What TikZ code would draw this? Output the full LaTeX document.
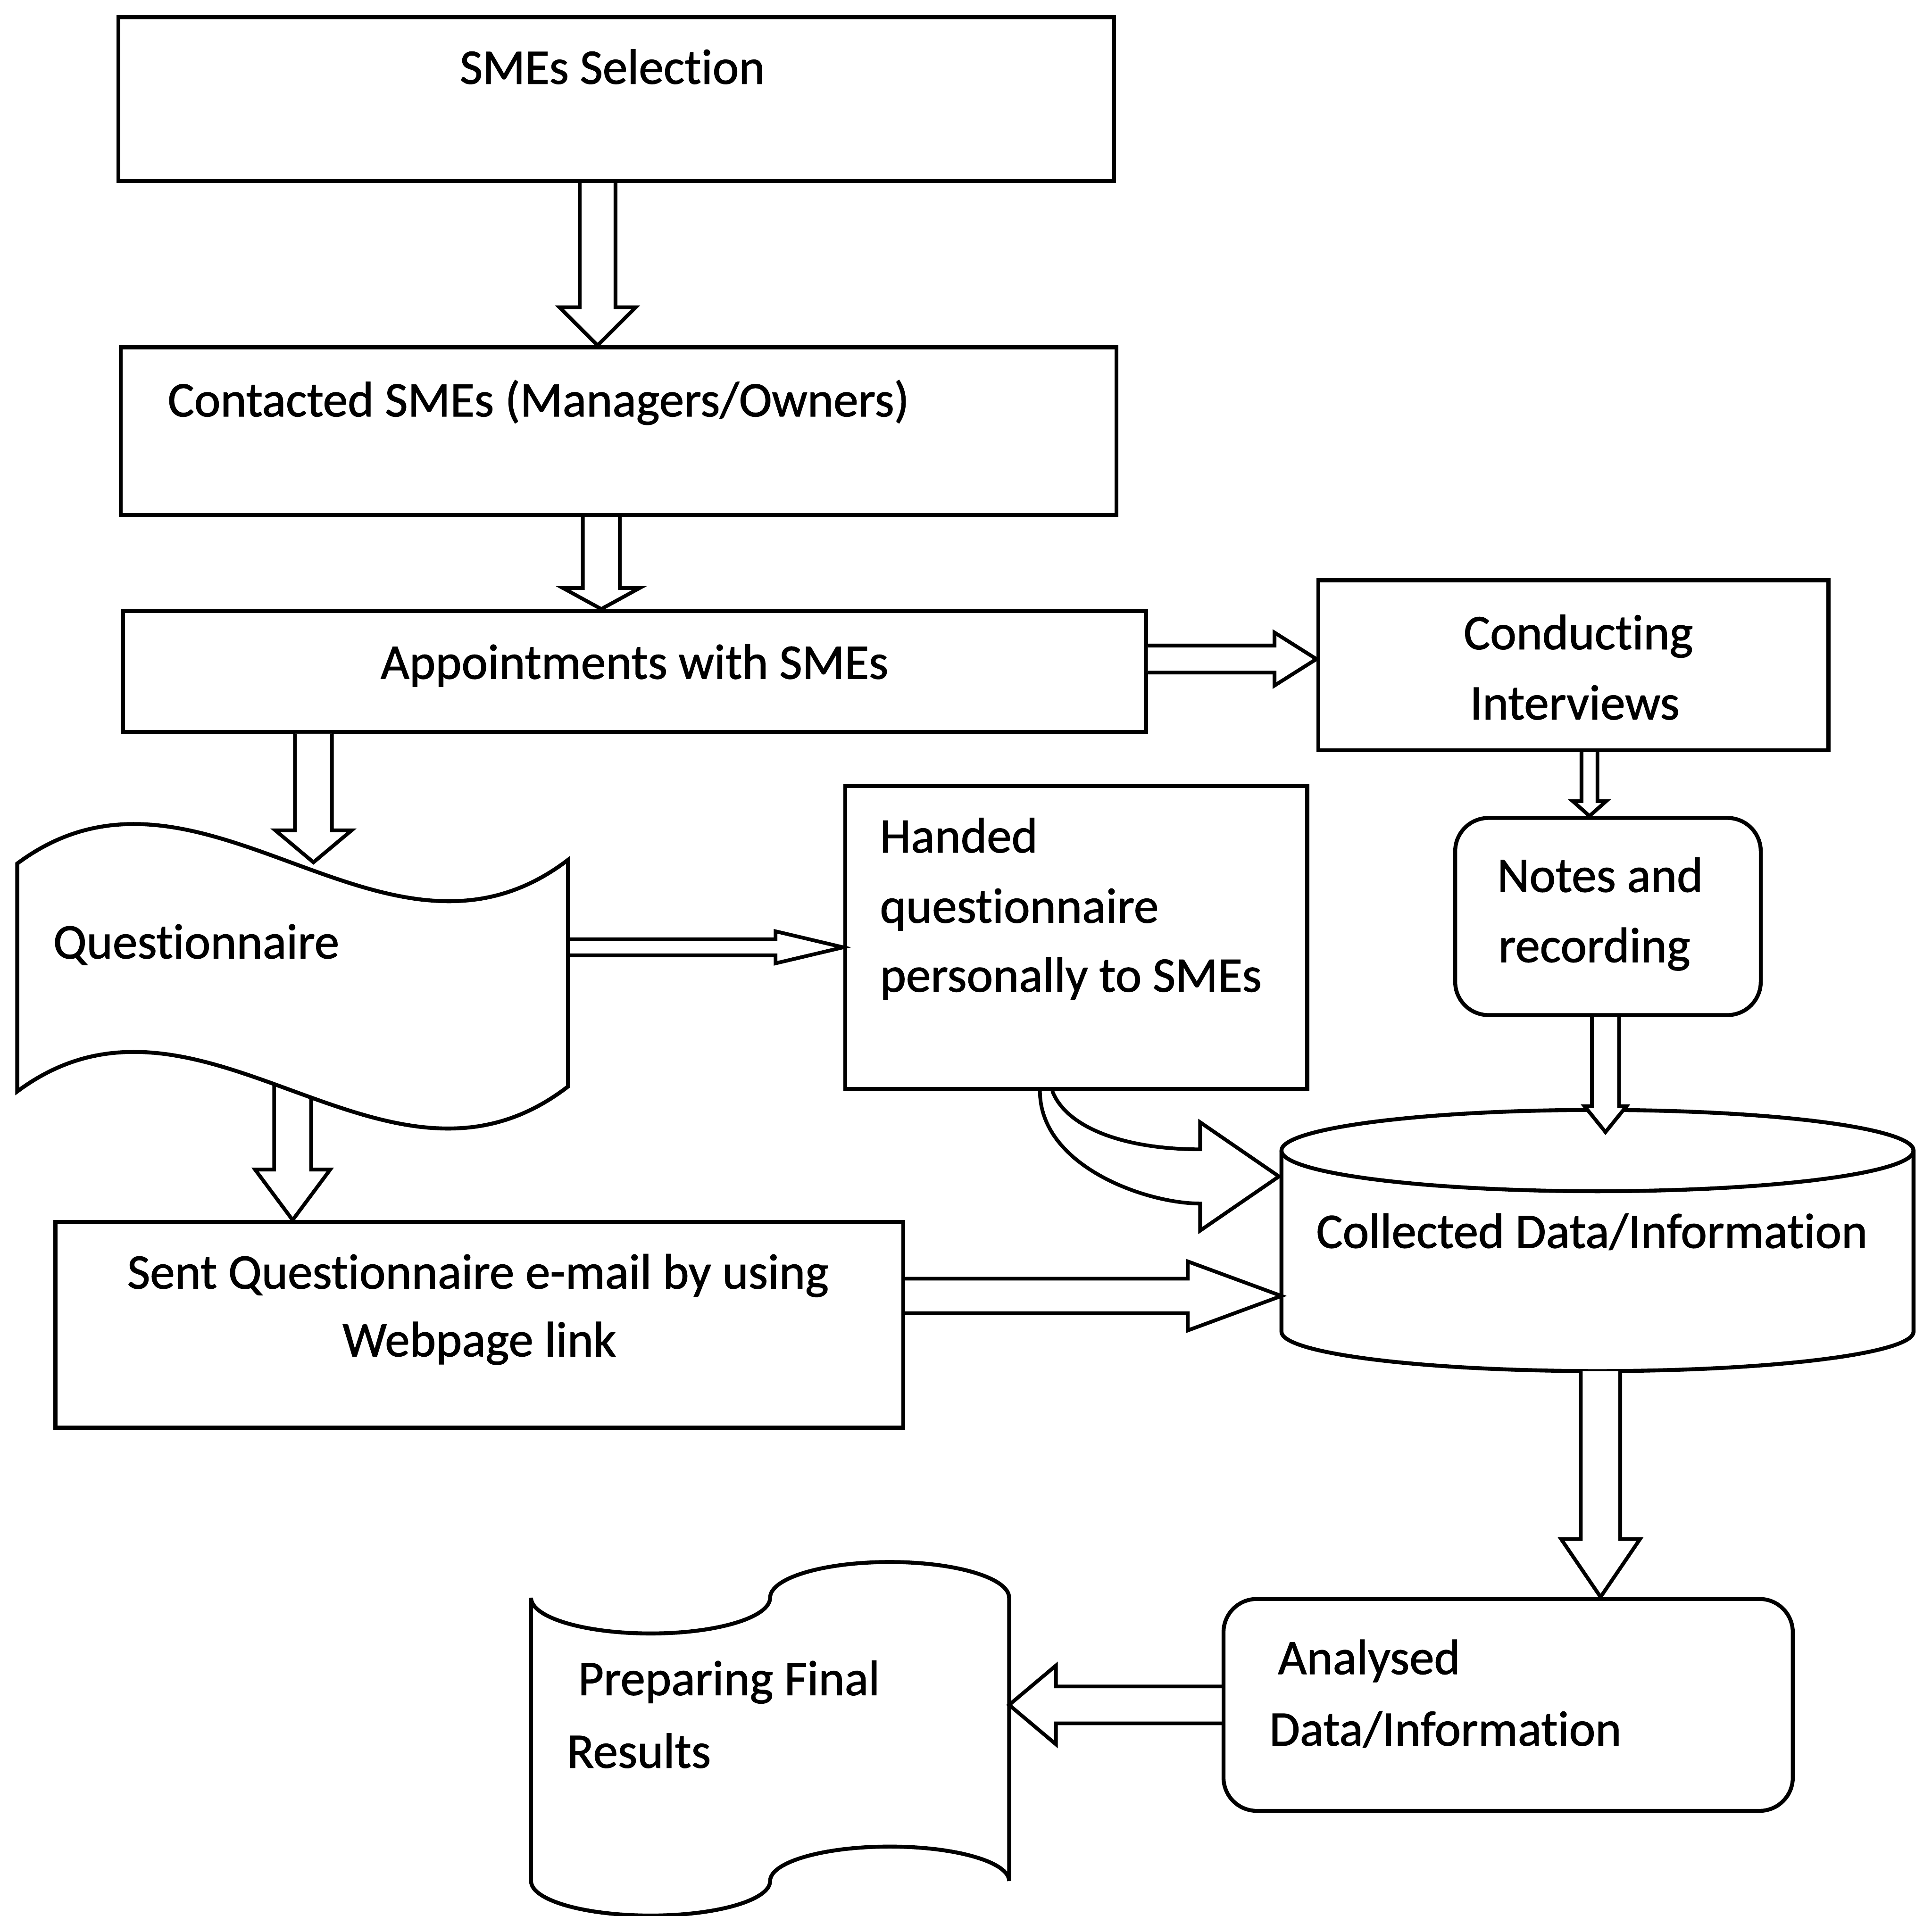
\documentclass[tikz,border=0pt]{standalone}
\usepackage{fontspec}
\setmainfont{Carlito}
\newfontfamily\lblfamily{Carlito}[FakeBold=1.2, Ligatures=NoCommon]
\usetikzlibrary{calc}

\newcommand\lblfont{\lblfamily\fontsize{40.3}{57}\selectfont}

% hollow block arrows: #1 tail point, #2 tip point, #3 shaft half width,
% #4 head half width, #5 head length
\newcommand\blockdown[5]{%
  \draw[blk] let \p1=(#1), \p2=(#2) in
    (\x1-#3,\y1) -- (\x1-#3,\y2+#5) -- (\x1-#4,\y2+#5) -- (\x1,\y2)
    -- (\x1+#4,\y2+#5) -- (\x1+#3,\y2+#5) -- (\x1+#3,\y1);}
\newcommand\blockright[5]{%
  \draw[blk] let \p1=(#1), \p2=(#2) in
    (\x1,\y1+#3) -- (\x2-#5,\y1+#3) -- (\x2-#5,\y1+#4) -- (\x2,\y1)
    -- (\x2-#5,\y1-#4) -- (\x2-#5,\y1-#3) -- (\x1,\y1-#3);}
\newcommand\blockleft[5]{%
  \draw[blk] let \p1=(#1), \p2=(#2) in
    (\x1,\y1+#3) -- (\x2+#5,\y1+#3) -- (\x2+#5,\y1+#4) -- (\x2,\y1)
    -- (\x2+#5,\y1-#4) -- (\x2+#5,\y1-#3) -- (\x1,\y1-#3);}

\tikzset{
  shapeline/.style={draw=black, line width=3.2pt, fill=white},
  box/.style={shapeline, rectangle, inner sep=0pt},
  rbox/.style={box, rounded corners=27pt},
  hold/.style={rectangle, inner sep=0pt, outer sep=0pt},
  blk/.style={draw=black, line width=3pt, fill=white},
  lbl/.style={inner sep=0pt, font=\lblfont}
}

\begin{document}
\begin{tikzpicture}[x=1pt,y=1pt]
\useasboundingbox (0,0) rectangle (1568,-1555);

% process boxes
\node[box, minimum width=808pt, minimum height=133pt] (b1) at (500,-80.5) {};
\node[box, minimum width=808pt, minimum height=136pt] (b2) at (502,-350) {};
\node[box, minimum width=830pt, minimum height=98pt]  (b3) at (515,-545) {};
\node[box, minimum width=414pt, minimum height=138pt] (b4) at (1277,-540) {};
\node[rbox, minimum width=248pt, minimum height=160pt] (b5) at (1305,-744) {};
\node[box, minimum width=375pt, minimum height=246pt] (b6) at (873.5,-761) {};
\node[box, minimum width=688pt, minimum height=167pt] (b7) at (389,-1075.5) {};
\node[rbox, minimum width=462pt, minimum height=172pt] (b8) at (1224,-1384) {};

% frames of the drawn symbols
\node[hold, minimum width=447pt, minimum height=247pt] (quest) at (237.5,-790.5) {};
\node[hold, minimum width=513pt, minimum height=212pt] (cyl) at (1296.5,-1007) {};
\node[hold, minimum width=388pt, minimum height=288pt] (final) at (625,-1412) {};

% questionnaire to e-mail (its tail hides under the tape symbol)
\blockdown{quest.center}{b7.north}{15pt}{30.5pt}{41pt}

% questionnaire: wavy tape symbol
\draw[shapeline] (14,-701) .. controls (163,-590) and (312,-812) .. (461,-698)
  -- (461,-882) .. controls (312,-997) and (163,-775) .. (14,-886) -- cycle;

% collected data: cylinder
\draw[shapeline] (1040,-934) -- (1040,-1081)
  arc[start angle=180, end angle=360, x radius=256.5, y radius=32]
  -- (1553,-934)
  arc[start angle=0, end angle=180, x radius=256.5, y radius=33] -- cycle;
\draw[shapeline, fill=none] (1040,-934)
  arc[start angle=180, end angle=360, x radius=256.5, y radius=33];

% final results: punched tape symbol
\draw[shapeline] (431,-1297)
  arc[start angle=180, end angle=360, x radius=97, y radius=29]
  arc[start angle=180, end angle=0, x radius=97, y radius=29]
  -- (819,-1527)
  arc[start angle=0, end angle=180, x radius=97, y radius=28]
  arc[start angle=0, end angle=-180, x radius=97, y radius=28] -- cycle;

% block arrows
\blockdown{[xshift=-15pt]b1.south}{b2.north}{14.5pt}{31pt}{31pt}
\blockdown{[xshift=-14pt]b2.south}{b3.north}{15pt}{31pt}{17pt}
\blockright{[yshift=10pt]b3.east}{b4.west}{11pt}{21.5pt}{34pt}
\blockdown{[xshift=13pt]b4.south}{b5.north}{6.5pt}{13.5pt}{12pt}
\blockdown{[xshift=-2pt]b5.south}{[yshift=-18pt]cyl.north}{11pt}{17pt}{21pt}
\blockdown{[xshift=2.5pt]cyl.south}{b8.north}{16pt}{32pt}{47pt}
\blockleft{b8.west}{final.east}{15pt}{32pt}{38pt}
\blockdown{[xshift=156pt]b3.south west}{[yshift=-33pt]quest.north}{15pt}{31pt}{26pt}
\blockright{[xshift=1.5pt,yshift=21.5pt]quest.east}{b6.west}{6.5pt}{13pt}{55pt}
\blockright{[yshift=23.5pt]b7.east}{cyl.west}{14pt}{28pt}{76pt}

% curved arrow from the handed questionnaire into the data store
\draw[blk] let \p1=(b6.south), \p2=(cyl.west) in
  (\x1-29.5pt,\y1) .. controls (\x1-29.5pt,\y1-61pt) and (\x2-110pt,\y2+30pt) .. (\x2-66pt,\y2+30pt)
  -- (\x2-66pt,\y2+8pt) -- (\x2-2pt,\y2+52pt) -- (\x2-66pt,\y2+96pt) -- (\x2-66pt,\y2+74pt)
  .. controls (\x2-125pt,\y2+74pt) and (\x1-7.5pt,\y1-31pt) .. (\x1-19.5pt,\y1);

% labels
\node[lbl, anchor=base] (t1) at (497,-68) {SMEs Selection};
\node[lbl, anchor=base west] (t2) at (136,-338) {Contacted SMEs (Managers/Owners)};
\node[lbl, anchor=base] (t3) at (515,-551) {Appointments with SMEs};
\node[lbl, anchor=base] (t4a) at (1281,-527) {Conducting};
\node[lbl, anchor=base] (t4b) at (1278,-584) {Interviews};
\node[lbl, anchor=base west] (t5a) at (1215,-724) {Notes and};
\node[lbl, anchor=base west] (t5b) at (1216,-781) {recording};
\node[lbl, anchor=base west] (tq) at (43,-778) {Questionnaire};
\node[lbl, anchor=base west] (t6a) at (714,-692) {Handed};
\node[lbl, anchor=base west] (t6b) at (714,-749) {questionnaire};
\node[lbl, anchor=base west] (t6c) at (714,-805) {personally to SMEs};
\node[lbl, anchor=base] (t7a) at (388,-1046) {Sent Questionnaire e-mail by using};
\node[lbl, anchor=base] (t7b) at (389,-1101) {Webpage link};
\node[lbl, anchor=base] (tc) at (1292,-1013) {Collected Data/Information};
\node[lbl, anchor=base west] (t8a) at (1037,-1359) {Analysed};
\node[lbl, anchor=base west] (t8b) at (1030,-1417) {Data/Information};
\node[lbl, anchor=base west] (t9a) at (469,-1376) {Preparing Final};
\node[lbl, anchor=base west] (t9b) at (460,-1435) {Results};
\end{tikzpicture}
\end{document}
